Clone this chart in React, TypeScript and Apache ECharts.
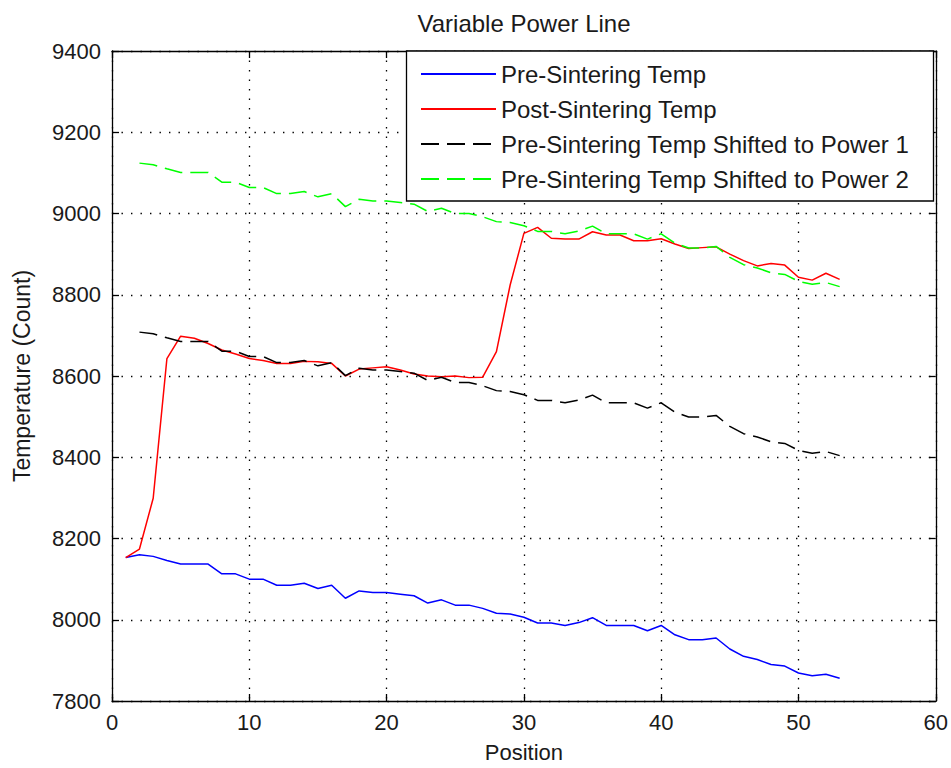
import { useEffect, useRef } from "react";
import * as echarts from "echarts";

const positions = [
  1, 2, 3, 4, 5, 6, 7, 8, 9, 10, 11, 12, 13, 14, 15, 16, 17, 18, 19, 20, 21, 22, 23, 24, 25, 26, 27,
  28, 29, 30, 31, 32, 33, 34, 35, 36, 37, 38, 39, 40, 41, 42, 43, 44, 45, 46, 47, 48, 49, 50, 51, 52, 53,
];
const shiftedPositions = [
  2, 3, 4, 5, 6, 7, 8, 9, 10, 11, 12, 13, 14, 15, 16, 17, 18, 19, 20, 21, 22, 23, 24, 25, 26, 27,
  28, 29, 30, 31, 32, 33, 34, 35, 36, 37, 38, 39, 40, 41, 42, 43, 44, 45, 46, 47, 48, 49, 50, 51, 52, 53,
];

const preSinteringTemp = [
  8153, 8160, 8156, 8146, 8137, 8137, 8137, 8113, 8113, 8100, 8100, 8085, 8085, 8090, 8077, 8085, 8053,
  8071, 8067, 8067, 8063, 8059, 8041, 8049, 8036, 8036, 8028, 8016, 8014, 8006, 7992, 7992, 7986, 7993,
  8005, 7986, 7986, 7986, 7973, 7986, 7963, 7951, 7951, 7955, 7928, 7910, 7902, 7890, 7886, 7869, 7862,
  7866, 7856,
];
const postSinteringTemp = [
  8153, 8174, 8299, 8643, 8698, 8693, 8680, 8664, 8654, 8643, 8638, 8631, 8631, 8636, 8635, 8631, 8600,
  8617, 8620, 8623, 8615, 8605, 8600, 8598, 8600, 8596, 8597, 8660, 8824, 8951, 8966, 8939, 8937, 8937,
  8955, 8947, 8947, 8933, 8933, 8938, 8925, 8914, 8916, 8918, 8900, 8884, 8871, 8877, 8873, 8843, 8836,
  8853, 8838,
];
const shiftedPower1 = [
  8708, 8704, 8694, 8685, 8685, 8685, 8661, 8661, 8648, 8648, 8633, 8633, 8638, 8625, 8633, 8601, 8619,
  8615, 8615, 8611, 8607, 8589, 8597, 8584, 8584, 8576, 8564, 8562, 8554, 8540, 8540, 8534, 8541, 8553,
  8534, 8534, 8534, 8521, 8534, 8511, 8499, 8499, 8503, 8476, 8458, 8450, 8438, 8434, 8417, 8410, 8414,
  8404,
];
const shiftedPower2 = [
  9124, 9120, 9110, 9101, 9101, 9101, 9077, 9077, 9064, 9064, 9049, 9049, 9054, 9041, 9049, 9017, 9035,
  9031, 9031, 9027, 9023, 9005, 9013, 9000, 9000, 8992, 8980, 8978, 8970, 8956, 8956, 8950, 8957, 8969,
  8950, 8950, 8950, 8937, 8950, 8927, 8915, 8915, 8919, 8892, 8874, 8866, 8854, 8850, 8833, 8826, 8830,
  8820,
];

const seriesNames = [
  "Pre-Sintering Temp",
  "Post-Sintering Temp",
  "Pre-Sintering Temp Shifted to Power 1",
  "Pre-Sintering Temp Shifted to Power 2",
];

const FONT = '"Liberation Sans", Arial, Helvetica, sans-serif';
const TEXT = "#1a1a1a";

const pair = (xs: number[], ys: number[]) => xs.map((x, i) => [x, ys[i]]);

export default function App() {
  const ref = useRef<HTMLDivElement>(null);

  useEffect(() => {
    if (!ref.current) return;
    const chart = echarts.init(ref.current, null, { renderer: "svg" });

    const gridDots = { show: true, lineStyle: { color: "#000", width: 1.3, type: [1.4, 8.1] } };
    const axisLine = { show: true, onZero: false, lineStyle: { color: "#000", width: 1.3 } };
    const tick = { show: true, inside: true, length: 7, lineStyle: { color: "#000", width: 1.3 } };

    chart.setOption({
      animation: false,
      backgroundColor: "#fff",
      title: {
        text: "Variable Power Line",
        left: 519,
        top: 6,
        textAlign: "center",
        textStyle: { fontFamily: FONT, fontSize: 24, fontWeight: "normal", color: TEXT },
      },
      grid: { left: 112, top: 51, width: 824, height: 650, show: false },
      graphic: [
        {
          type: "rect",
          z: 5,
          shape: { x: 406.5, y: 51, width: 527, height: 150 },
          style: { fill: "#fff", stroke: "#000", lineWidth: 1.3 },
        },
      ],
      legend: {
        z: 6,
        orient: "vertical",
        left: 420,
        top: 62,
        padding: 0,
        itemWidth: 75,
        itemHeight: 14,
        itemGap: 11,
        selectedMode: false,
        data: seriesNames,
        itemStyle: { opacity: 0 },
        textStyle: { fontFamily: FONT, fontSize: 24, color: TEXT, lineHeight: 23 },
      },
      xAxis: [
        {
          type: "value",
          min: 0,
          max: 60,
          interval: 10,
          name: "Position",
          nameLocation: "middle",
          nameGap: 40,
          nameTextStyle: { fontFamily: FONT, fontSize: 22, color: TEXT },
          axisLine,
          axisTick: tick,
          axisLabel: { fontFamily: FONT, fontSize: 22, color: TEXT, margin: 10 },
          splitLine: gridDots,
        },
        {
          type: "value",
          position: "top",
          min: 0,
          max: 60,
          interval: 10,
          axisLine,
          axisTick: tick,
          axisLabel: { show: false },
          splitLine: { show: false },
        },
      ],
      yAxis: [
        {
          type: "value",
          min: 7800,
          max: 9400,
          interval: 200,
          name: "Temperature (Count)",
          nameLocation: "middle",
          nameGap: 79,
          nameTextStyle: { fontFamily: FONT, fontSize: 23, color: TEXT },
          axisLine,
          axisTick: tick,
          axisLabel: {
            fontFamily: FONT,
            fontSize: 22,
            color: TEXT,
            margin: 11,
            formatter: (v: number) => String(v),
          },
          splitLine: gridDots,
        },
        {
          type: "value",
          position: "right",
          min: 7800,
          max: 9400,
          interval: 200,
          axisLine,
          axisTick: tick,
          axisLabel: { show: false },
          splitLine: { show: false },
        },
      ],
      series: [
        {
          name: seriesNames[0],
          type: "line",
          data: pair(positions, preSinteringTemp),
          symbol: "none",
          lineStyle: { color: "#0000ff", width: 1.5 },
          itemStyle: { color: "#0000ff" },
        },
        {
          name: seriesNames[1],
          type: "line",
          data: pair(positions, postSinteringTemp),
          symbol: "none",
          lineStyle: { color: "#ff0000", width: 1.5 },
          itemStyle: { color: "#ff0000" },
        },
        {
          name: seriesNames[2],
          type: "line",
          data: pair(shiftedPositions, shiftedPower1),
          symbol: "none",
          lineStyle: { color: "#000000", width: 1.5, type: [18, 8] },
          itemStyle: { color: "#000000" },
        },
        {
          name: seriesNames[3],
          type: "line",
          data: pair(shiftedPositions, shiftedPower2),
          symbol: "none",
          lineStyle: { color: "#00ff00", width: 1.5, type: [18, 8] },
          itemStyle: { color: "#00ff00" },
        },
      ],
    });

    return () => chart.dispose();
  }, []);

  return (
    <div
      ref={ref}
      style={{ position: "absolute", left: 0, top: 0, width: 951, height: 768, background: "#fff" }}
    />
  );
}
